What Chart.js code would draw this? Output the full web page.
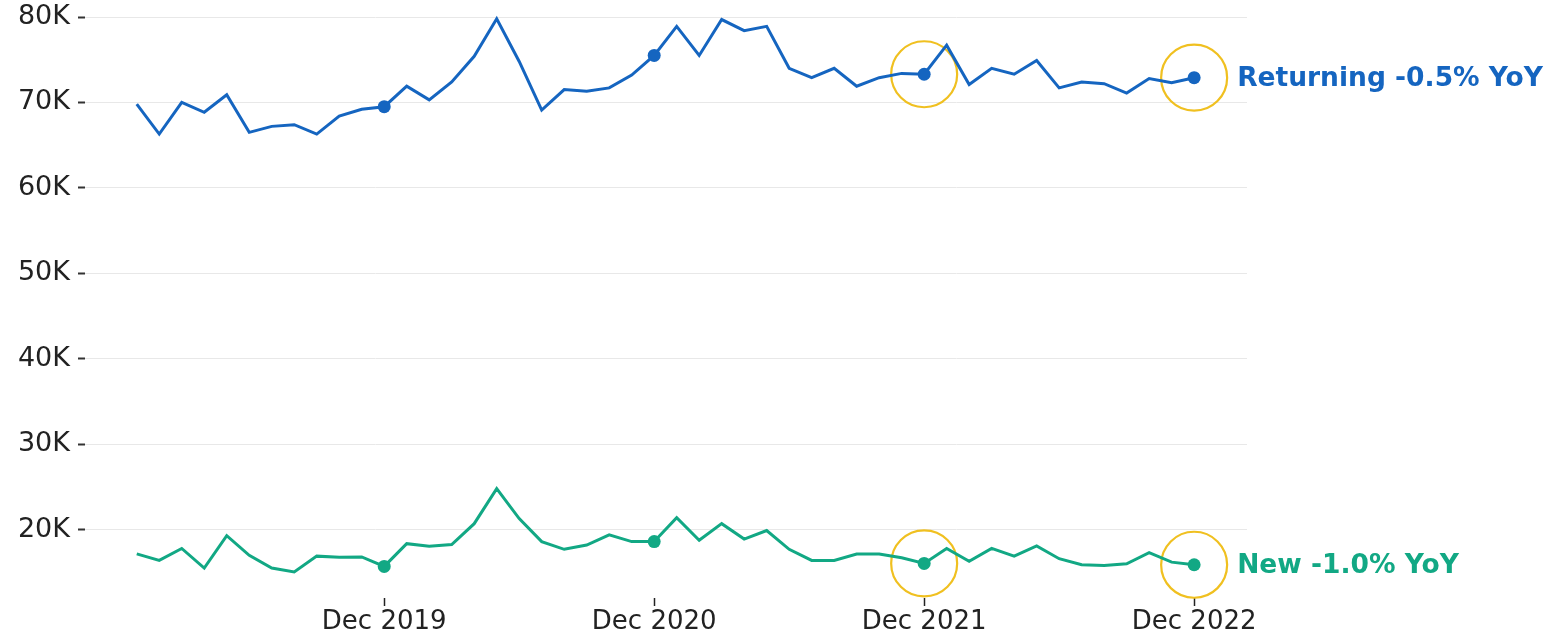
<!DOCTYPE html>
<html>
<head>
<meta charset="utf-8">
<script src="https://cdn.jsdelivr.net/npm/chart.js@4.4.1/dist/chart.umd.min.js"></script>
<style>
  html, body { margin: 0; padding: 0; background: #fff; overflow: hidden; }
  canvas { display: block; }
</style>
</head>
<body>
<canvas id="myChart" width="1554" height="641"></canvas>
<script>
// Data (monthly, Jan 2019 - Dec 2022)

const months = [
  'Jan 2019', 'Feb 2019', 'Mar 2019', 'Apr 2019', 'May 2019', 'Jun 2019', 'Jul 2019', 'Aug 2019', 'Sep 2019', 'Oct 2019', 'Nov 2019', 'Dec 2019',
  'Jan 2020', 'Feb 2020', 'Mar 2020', 'Apr 2020', 'May 2020', 'Jun 2020', 'Jul 2020', 'Aug 2020', 'Sep 2020', 'Oct 2020', 'Nov 2020', 'Dec 2020',
  'Jan 2021', 'Feb 2021', 'Mar 2021', 'Apr 2021', 'May 2021', 'Jun 2021', 'Jul 2021', 'Aug 2021', 'Sep 2021', 'Oct 2021', 'Nov 2021', 'Dec 2021',
  'Jan 2022', 'Feb 2022', 'Mar 2022', 'Apr 2022', 'May 2022', 'Jun 2022', 'Jul 2022', 'Aug 2022', 'Sep 2022', 'Oct 2022', 'Nov 2022', 'Dec 2022'
];

const returningUsers = [
  69800, 66300, 70000, 68850, 70900, 66500, 67200, 67400, 66300, 68400, 69200, 69500,
  71900, 70300, 72400, 75400, 79800, 74800, 69100, 71500, 71300, 71700, 73200, 75500,
  78900, 75500, 79700, 78400, 78900, 74000, 72900, 74000, 71900, 72900, 73400, 73300,
  76700, 72100, 74000, 73300, 74900, 71700, 72400, 72200, 71100, 72800, 72300, 72900
];

const newUsers = [
  17160, 16400, 17800, 15500, 19300, 17000, 15500, 15050, 16900, 16760, 16800, 15700,
  18360, 18050, 18250, 20700, 24800, 21300, 18600, 17700, 18200, 19400, 18600, 18600,
  21400, 18750, 20700, 18900, 19900, 17700, 16400, 16400, 17150, 17150, 16700, 16050,
  17800, 16300, 17800, 16900, 18100, 16600, 15900, 15800, 16000, 17300, 16200, 15890
];

const yTicks = [20000, 30000, 40000, 50000, 60000, 70000, 80000];
const xTickIdx = [11, 23, 35, 47];
const circledIdx = [35, 47];

const BLUE = '#1565C0';
const GREEN = '#12A884';
const GOLD = '#F0C020';
const FONT = "'DejaVu Sans', sans-serif";


// Helpers

function toPoints(values) {
  return values.map((v, i) => ({ x: i, y: v }));
}

function dotRadius(values) {
  return values.map((v, i) => xTickIdx.includes(i) ? 6.5 : 0);
}

function circles(values) {
  return circledIdx.map(i => ({ x: i, y: values[i] }));
}

function yoy(values) {
  const last = values[values.length - 1];
  const prev = values[values.length - 13];
  return ((last / prev - 1) * 100).toFixed(1);
}


// End labels

const endLabels = {
  id: 'endLabels',
  afterDatasetsDraw(chart) {
    const { ctx } = chart;
    const items = [
      { ds: 0, text: `Returning ${yoy(returningUsers)}% YoY`, color: BLUE },
      { ds: 1, text: `New ${yoy(newUsers)}% YoY`, color: GREEN }
    ];
    ctx.save();
    ctx.font = `bold 26.5px ${FONT}`;
    ctx.textAlign = 'left';
    ctx.textBaseline = 'middle';
    items.forEach(item => {
      const meta = chart.getDatasetMeta(item.ds);
      const pt = meta.data[meta.data.length - 1];
      ctx.fillStyle = item.color;
      ctx.fillText(item.text, pt.x + 43, pt.y + 1);
    });
    ctx.restore();
  }
};


// Line Chart

const ctx = document.getElementById('myChart').getContext('2d');

const myChart = new Chart(ctx, {
  type: 'line',
  data: {
    datasets: [
      {
        label: 'Returning',
        data: toPoints(returningUsers),
        borderColor: BLUE,
        backgroundColor: BLUE,
        borderWidth: 3,
        pointRadius: dotRadius(returningUsers),
        pointBorderWidth: 0,
        tension: 0,
        clip: false
      },
      {
        label: 'New',
        data: toPoints(newUsers),
        borderColor: GREEN,
        backgroundColor: GREEN,
        borderWidth: 3,
        pointRadius: dotRadius(newUsers),
        pointBorderWidth: 0,
        tension: 0,
        clip: false
      },
      {
        label: 'Highlight Returning',
        data: circles(returningUsers),
        showLine: false,
        pointRadius: 33,
        pointBorderColor: GOLD,
        pointBackgroundColor: 'rgba(0,0,0,0)',
        pointBorderWidth: 2.2,
        clip: false
      },
      {
        label: 'Highlight New',
        data: circles(newUsers),
        showLine: false,
        pointRadius: 33,
        pointBorderColor: GOLD,
        pointBackgroundColor: 'rgba(0,0,0,0)',
        pointBorderWidth: 2.2,
        clip: false
      }
    ]
  },
  options: {
    responsive: false,
    animation: false,
    devicePixelRatio: 1,
    layout: {
      autoPadding: false,
      padding: { top: 0, right: 307, bottom: 0, left: 0 }
    },
    plugins: {
      legend: { display: false },
      tooltip: { enabled: false }
    },
    scales: {
      x: {
        type: 'linear',
        min: -2.3,
        max: 49.35,
        afterBuildTicks: (scale) => {
          scale.ticks = xTickIdx.map(v => ({ value: v }));
        },
        afterFit: (scale) => { scale.height = 43; },
        ticks: {
          color: '#222',
          font: { family: FONT, size: 26 },
          padding: 1,
          maxRotation: 0,
          autoSkip: false,
          callback: (v) => months[v]
        },
        grid: {
          drawOnChartArea: false,
          drawTicks: true,
          tickLength: 8,
          tickColor: '#222',
          tickWidth: 1.5
        },
        border: { display: false }
      },
      y: {
        min: 12000,
        max: 80000,
        afterBuildTicks: (scale) => {
          scale.ticks = yTicks.map(v => ({ value: v }));
        },
        afterFit: (scale) => {
          scale.width = 85;
          scale.paddingTop = 17;
          scale.paddingBottom = 0;
        },
        ticks: {
          color: '#222',
          font: { family: FONT, size: 27 },
          padding: 8,
          callback: (v) => (v / 1000) + 'K'
        },
        grid: {
          color: '#e8e8e8',
          lineWidth: 1,
          tickLength: 7,
          tickColor: '#333',
          tickWidth: 2
        },
        border: { display: false }
      }
    }
  },
  plugins: [endLabels]
});
</script>
</body>
</html>
